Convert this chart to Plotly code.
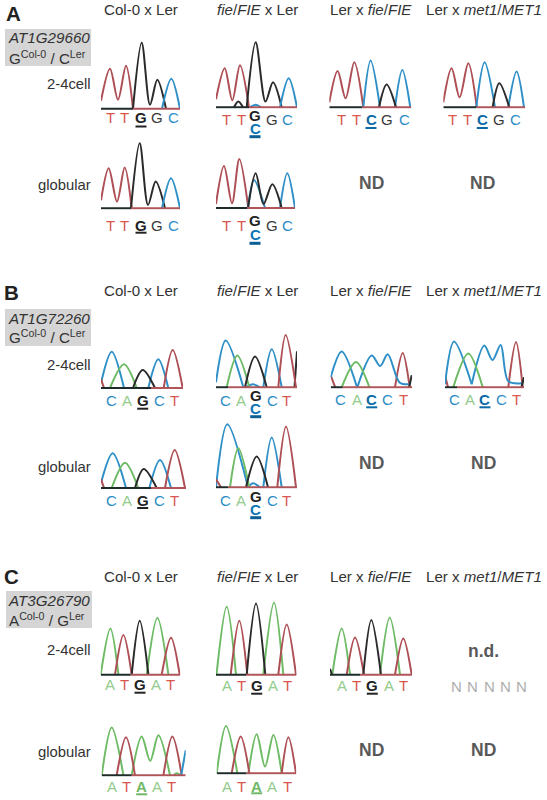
import plotly.graph_objects as go

W, H = 547, 800
COLORS = {"T": "#ad4f55", "G": "#2a2a2a", "C": "#2f90c8", "A": "#6dbb64"}
TXT = {"T": "#d9574f", "G": "#3a3a3a", "C": "#2a8cc6", "A": "#93cc8c", "N": "#adadad"}
STRONG = {"G": "#222222", "C": "#0b6aa5", "A": "#6fb868"}

# signal traces: channel -> strokes of (scan position, signal)
A_24_COL = {"T": [([0, 9, 17, 25, 32], [8, 40, 9, 43, 0])], "G": [([32, 40.7, 49, 56.3, 65], [0, 66, 4, 29, 0])], "C": [([61, 70.3, 79], [0, 30, 0])]}
A_GLOB_COL = {"T": [([0, 7.7, 16, 23.7, 30.7], [8, 40, 6.7, 40.7, 0])], "G": [([30, 38.7, 47, 54.7, 64], [0, 65, 3.3, 26.7, 0])], "C": [([61, 70, 79], [0, 30, 0])]}
A_24_FIE = {"T": [([0, 8.7, 16.3, 24, 33], [8, 39, 7, 42, 0])], "G": [([18, 22.3, 27], [0, 5.7, 0]), ([30.7, 39.7, 49.5, 57, 65.7], [0, 65, 5.7, 25, 0])], "C": [([34, 39.7, 45], [0, 2.5, 0]), ([64, 72.7, 81], [0, 29, 0])]}
A_GLOB_FIE = {"T": [([0, 8, 16, 23.3, 32.3], [4, 42, 4.7, 49, 0])], "C": [([32, 38, 49], [0, 28, 0]), ([64, 71.3, 79], [0, 34.7, 0])], "G": [([32, 39.7, 47.5, 56.3, 65.7], [0, 34.7, 4, 23.7, 0])]}
A_24_LFIE = {"T": [([0, 8.3, 16.3, 25, 34], [5, 36.3, 9, 45, 0])], "C": [([34, 41.3, 50.7], [0, 46.7, 0]), ([65.7, 73, 81], [0, 37.3, 0])], "G": [([49.7, 57.3, 66.7], [0, 22.7, 0])]}
A_24_MET = {"T": [([0, 8.3, 16.3, 25, 33.5], [5, 39, 10, 44, 0])], "C": [([33, 41.3, 51.7], [0, 45, 0]), ([65, 73.3, 80.7], [0, 35.7, 0])], "G": [([49.3, 56, 66], [0, 24, 0])]}

B_24_COL = {"C": [([0, 10.7, 23], [5, 36.3, 0]), ([47.3, 57.3, 67.3], [0, 28.7, 0])], "A": [([9, 23, 35.7], [0, 23.7, 0])], "G": [([32, 41.7, 54], [0, 18, 0])], "T": [([0, 3], [9, 0]), ([62.7, 71.7, 81.7], [0, 38, 0])]}
B_GLOB_COL = {"C": [([0, 11.7, 25], [5, 34.7, 0]), ([48.3, 59, 70], [0, 28, 0])], "A": [([10.7, 24, 37.3], [0, 25.3, 0])], "G": [([34, 42.7, 55.7], [0, 19, 0])], "T": [([0, 3], [9, 0]), ([64, 73.7, 84], [0, 38, 0])]}
B_24_FIE = {"C": [([0, 9.7, 27.3], [5, 46.7, 0]), ([30, 37, 44], [0, 3, 0]), ([47.3, 55.7, 65.7], [0, 38, 0])], "A": [([10.7, 21.3, 33.3], [0, 31.7, 0])], "G": [([29, 39, 50.7], [0, 30.7, 0]), ([78.5, 81], [0, 36])], "T": [([62.3, 69.7, 80], [0, 52.3, 0])]}
B_GLOB_FIE = {"C": [([0, 11.3, 32], [0, 63, 0]), ([32, 37, 44], [0, 4, 0]), ([47.3, 55.7, 65.7], [0, 49.7, 0])], "A": [([14, 22.3, 33.3], [0, 39, 0])], "G": [([30, 40.7, 52], [0, 30.7, 0])], "T": [([0, 5], [8, 0]), ([61.3, 70, 80], [0, 60.7, 0])]}
B_24_LFIE = {"T": [([0, 4.5], [12, 0]), ([64.3, 72, 79], [0, 34.3, 0])], "C": [([0, 11, 26], [10, 35.7, 1]), ([26.7, 41, 49.5, 57, 69, 79], [0, 31.7, 21.3, 33, 4.7, 3])], "A": [([11, 25.3, 38.7], [0, 25.3, 0])], "G": [([78.5, 81], [0, 12])]}
B_24_MET = {"T": [([0, 3], [12, 0]), ([63.3, 71, 77.7], [0, 45.3, 0])], "C": [([0, 9, 26.7], [3, 45.7, 3]), ([26.7, 39.3, 47.5, 55.7, 63.3, 77], [3, 41.7, 27.3, 42.3, 6, 4])], "A": [([8.3, 23.3, 37.7], [0, 33.7, 0])], "G": [([76.5, 79], [0, 10])]}

C_24_COL = {"A": [([0, 9.7, 17.7], [0, 46.3, 0]), ([46, 56.7, 67.7], [0, 57, 0])], "T": [([14.3, 22.7, 31], [0, 39.7, 0]), ([61, 70.3, 79], [0, 37, 0])], "G": [([31, 39, 47.7], [0, 54, 0])]}
C_24_FIE = {"A": [([0.5, 10.7, 20], [0, 68, 0]), ([47.3, 58, 67.3], [0, 72, 0])], "T": [([14.7, 23.3, 31.3], [0, 54, 0]), ([62.3, 70.7, 80], [0, 50.3, 0])], "G": [([30.7, 40, 49.3], [0, 71.3, 0])]}
C_24_LFIE = {"A": [([2.3, 11.7, 20], [0, 46.3, 0]), ([50, 59.7, 70], [0, 57.3, 0])], "T": [([16.7, 25, 34], [0, 37.3, 0]), ([65, 73.3, 81.7], [0, 36.3, 0])], "G": [([0, 2], [6, 0]), ([33.3, 41.3, 51], [0, 54.7, 0])]}
C_GLOB_COL = {"A": [([0, 10, 21.7], [0, 47.7, 0]), ([30, 40, 48.5, 56.7, 68.3], [0, 38.7, 14.3, 40, 0]), ([72, 75, 79], [0, 2, 0])], "T": [([15, 24.3, 33.3], [0, 38, 0]), ([61.7, 70.7, 80], [0, 38.7, 0])], "C": [([79.5, 84], [0, 25])]}
C_GLOB_FIE = {"A": [([0, 9.3, 20.7], [0, 47.3, 0]), ([31.7, 40, 48.3, 56.7, 65], [0, 39, 6.7, 38.3, 0])], "T": [([15, 24, 32.7], [0, 36.7, 0]), ([65, 71.7, 79.3], [0, 36, 0])]}

# base call letters
CALLS_A = ["T", "T", "G", "G", "C"]
CALLS_A_LER = ["T", "T", "C", "G", "C"]
CALLS_B = ["C", "A", "G", "C", "T"]
CALLS_B_LER = ["C", "A", "C", "C", "T"]
CALLS_C = ["A", "T", "G", "A", "T"]
CALLS_C_GLOB = ["A", "T", "A", "A", "T"]
CALLS_N = ["N", "N", "N", "N", "N"]

fig = go.Figure()
# panel frame: data, left px, baseline px, width px, black-to-red baseline change
FRAMES = [
    (A_24_COL, 101, 108.7, 79, 32), (A_GLOB_COL, 101, 208.3, 79, 30), (A_24_FIE, 216, 107.3, 81, 33), (A_GLOB_FIE, 216, 208, 79, 31),
    (A_24_LFIE, 329.3, 107.3, 82, 33), (A_24_MET, 443.3, 107.3, 82, 33),
    (B_24_COL, 101, 388, 82, 50), (B_GLOB_COL, 101, 488, 85, 50), (B_24_FIE, 216, 387.3, 81, 12), (B_GLOB_FIE, 216, 487.3, 81, 12),
    (B_24_LFIE, 330.7, 387.3, 81.5, 12), (B_24_MET, 445, 387.3, 79, 12),
    (C_24_COL, 100.7, 674.7, 79.5, 30), (C_24_FIE, 216, 674.7, 80.5, 30), (C_24_LFIE, 330, 674.7, 82, 30),
    (C_GLOB_COL, 101.7, 775.3, 84, 30), (C_GLOB_FIE, 216.7, 773.3, 79.5, 30),
]
SPAN = 80
for i, (panel, left, base, width, split) in enumerate(FRAMES, start=1):
    xa, ya = ("x", "y") if i == 1 else (f"x{i}", f"y{i}")
    key = "" if i == 1 else str(i)
    fig.update_layout({
        f"xaxis{key}": dict(domain=[left / W, (left + width) / W], range=[0, width], visible=False, fixedrange=True),
        f"yaxis{key}": dict(domain=[1 - (base + 1.5) / H, 1 - (base - SPAN) / H], range=[-1.5, SPAN], visible=False, fixedrange=True),
    })
    for ch, strokes in panel.items():
        for xs, ys in strokes:
            fig.add_trace(go.Scatter(x=xs, y=ys, xaxis=xa, yaxis=ya, mode="lines", hoverinfo="skip", showlegend=False,
                                     line=dict(color=COLORS[ch], width=2, shape="spline", smoothing=0.9)))
    fig.add_trace(go.Scatter(x=[0, split], y=[0, 0], xaxis=xa, yaxis=ya, mode="lines", hoverinfo="skip", showlegend=False,
                             line=dict(color="#1f2a2a", width=2)))
    fig.add_trace(go.Scatter(x=[split, width], y=[0, 0], xaxis=xa, yaxis=ya, mode="lines", hoverinfo="skip", showlegend=False,
                             line=dict(color="#b0555a", width=2)))

ann = []
shapes = []
FONT = "Liberation Sans, Arial, sans-serif"

def text(x, y, s, size=14, color="#333333", anchor="center"):
    ann.append(dict(x=x / W, y=1 - y / H, xref="paper", yref="paper", text=s, showarrow=False, xanchor=anchor, yanchor="middle",
                    font=dict(family=FONT, size=size, color=color), align=anchor, borderpad=0, borderwidth=0))

def underline(x0, x1, y, color, width=2):
    shapes.append(dict(type="line", xref="paper", yref="paper", x0=x0 / W, x1=x1 / W, y0=1 - y / H, y1=1 - y / H,
                       line=dict(color=color, width=width)))

def calls(letters, xs, y, bold=None, uy=None, double=None):
    for j, (c, x) in enumerate(zip(letters, xs)):
        if j == bold:
            if double:
                text(x, double[0], "<b>G</b>", 15, "#222222")
                text(x, double[1], "<b>C</b>", 15, "#0b74b5")
                underline(x - 5.5, x + 5.5, double[2], "#0b5f95", 3)
            else:
                text(x, y, f"<b>{c}</b>", 15, STRONG[c])
                underline(x - 5.5, x + 5.5, uy, STRONG[c])
        else:
            text(x, y, c, 15, TXT[c])

for lab, x, y in [("A", 13, 13.5), ("B", 11.5, 292), ("C", 11, 576)]:
    text(x, y, f"<b>{lab}</b>", 20.5, "#222222")

for y in (10, 290, 576.7):
    text(140.7, y, "Col-0 x Ler", 15.1)
    text(257, y, "<i>fie</i>/<i>FIE</i> x Ler", 15.1)
    text(371, y, "Ler x <i>fie</i>/<i>FIE</i>", 15.1)
    text(484, y, "Ler x <i>met1</i>/<i>MET1</i>", 15.1)

for (x0, y0, y1, gene, y_g, sup, y_s) in [
    (5, 29, 66, "AT1G29660", 37.7, "G<sup>Col-0</sup> / C<sup>Ler</sup>", 57),
    (5, 309, 346, "AT1G72260", 318.3, "G<sup>Col-0</sup> / C<sup>Ler</sup>", 336.7),
    (6, 591, 628, "AT3G26790", 600, "A<sup>Col-0</sup> / G<sup>Ler</sup>", 619.3),
]:
    shapes.append(dict(type="rect", xref="paper", yref="paper", x0=x0 / W, x1=(x0 + 86) / W, y0=1 - y0 / H, y1=1 - y1 / H,
                       fillcolor="#d5d5d5", line=dict(width=0), layer="below"))
    text(48.5, y_g, f"<i>{gene}</i>", 15.2)
    text(47, y_s, sup, 15.2)

for y in (84, 365, 650):
    text(91, y, "2-4cell", 14.8, anchor="right")
for y in (185, 466.7, 751.7):
    text(91, y, "globular", 14.8, anchor="right")

for y, xs in [(183.3, (371.3, 482.7)), (462.7, (371.7, 483)), (750, (371.7, 483))]:
    for x in xs:
        text(x, y, "<b>ND</b>", 17.5, "#595959")
text(483, 650.7, "<b>n.d.</b>", 17.5, "#595959")

# row A
calls(CALLS_A, [110, 124.7, 141, 157.3, 173.3], 118, 2, 126.5)
calls(CALLS_A, [226.7, 241.7, 255, 272, 287.3], 119.3, 2, double=(115.7, 128, 136.7))
calls(CALLS_A_LER, [341.3, 356.7, 371, 387.3, 404], 119.3, 2, 128)
calls(CALLS_A_LER, [452.7, 467.7, 482.3, 498.7, 515], 119.3, 2, 128)
calls(CALLS_A, [110, 124.7, 141, 157.3, 173.3], 225, 2, 232.7)
calls(CALLS_A, [226.7, 241.7, 255, 272, 287.3], 225.3, 2, double=(220.7, 235, 243.3))
# row B
calls(CALLS_B, [111, 126.7, 142.7, 159, 174], 400.7, 2, 408.7)
calls(CALLS_B, [225.7, 240.7, 255.7, 272, 286.7], 400, 2, double=(395.3, 408.3, 416.7))
calls(CALLS_B_LER, [340.7, 356.7, 371.7, 387.7, 403.3], 399.3, 2, 407.3)
calls(CALLS_B_LER, [454.3, 470, 485, 501.7, 516.7], 399.3, 2, 407.3)
calls(CALLS_B, [111, 126.7, 142.7, 159, 174], 500, 2, 508)
calls(CALLS_B, [225.7, 240.7, 255.7, 272, 286.7], 500, 2, double=(496, 509.3, 517.7))
# row C
calls(CALLS_C, [110, 124, 140, 156, 170.7], 684.3, 2, 692.7)
calls(CALLS_C, [226.7, 241.7, 256.7, 273.3, 287.3], 685.3, 2, 693.7)
calls(CALLS_C, [342, 356.7, 372.3, 389, 403.3], 685.7, 2, 693.7)
calls(CALLS_N, [456.7, 472.7, 489.3, 505.7, 521.7], 686.3)
calls(CALLS_C_GLOB, [111.7, 126, 141.7, 157.3, 171.7], 786.7, 2, 794.3)
calls(CALLS_C_GLOB, [226.7, 241.7, 256.7, 272.3, 287.3], 786, 2, 793.3)

fig.update_layout(width=W, height=H, margin=dict(l=0, r=0, t=0, b=0), autosize=False, paper_bgcolor="white", plot_bgcolor="rgba(0,0,0,0)",
                  showlegend=False, annotations=ann, shapes=shapes)
fig.write_html("out.html", post_script="document.body.style.margin='0';", config=dict(displayModeBar=False))
